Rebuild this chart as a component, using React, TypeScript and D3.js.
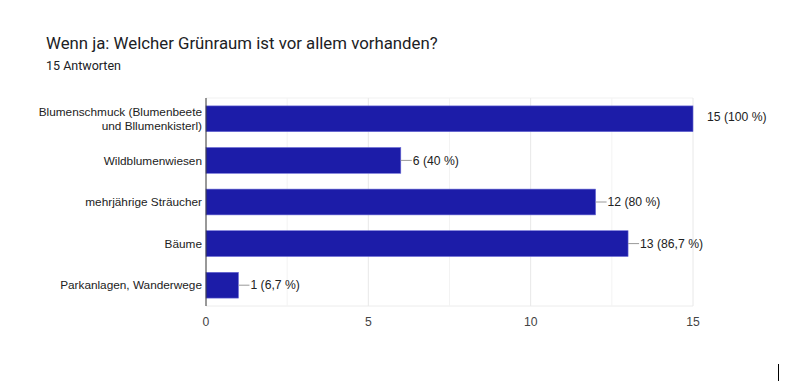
import * as d3 from "d3";

const categories = [
  ["Blumenschmuck (Blumenbeete", "und Bllumenkisterl)"],
  ["Wildblumenwiesen"],
  ["mehrjährige Sträucher"],
  ["Bäume"],
  ["Parkanlagen, Wanderwege"],
];
const counts = [15, 6, 12, 13, 1];
const valueLabels = ["15 (100 %)", "6 (40 %)", "12 (80 %)", "13 (86,7 %)", "1 (6,7 %)"];
const xTicks = [0, 5, 10, 15];
const gridTicks = [2.5, 5, 7.5, 10, 12.5, 15];

export default function App() {
  const width = 811;
  const height = 385;
  const plot = { left: 206, right: 693, top: 98, bottom: 306 };

  const x = d3.scaleLinear().domain([0, 15]).range([plot.left, plot.right]);
  const y = d3
    .scaleBand<number>()
    .domain(d3.range(categories.length))
    .range([plot.top, plot.bottom])
    .paddingInner(0.38)
    .paddingOuter(0.19);

  const font = "Arial, 'Liberation Sans', sans-serif";

  return (
    <svg
      width={width}
      height={height}
      style={{ position: "absolute", left: 0, top: 0, background: "#fff" }}
    >
      <text x={46} y={49} fontFamily="Roboto, sans-serif" fontSize={16.8} fill="#202124">
        Wenn ja: Welcher Grünraum ist vor allem vorhanden?
      </text>
      <text x={46} y={70} fontFamily="Roboto, sans-serif" fontSize={12.5} fill="#202124">
        15 Antworten
      </text>

      {/* gridlines */}
      <line x1={plot.left} x2={plot.right} y1={plot.top} y2={plot.top} stroke="#f1f1f1" />
      <line x1={plot.left} x2={plot.right} y1={plot.bottom} y2={plot.bottom} stroke="#ececec" />
      {gridTicks.map((t) => (
        <line
          key={t}
          x1={x(t)}
          x2={x(t)}
          y1={plot.top}
          y2={plot.bottom}
          stroke={t % 5 === 0 ? "#e8e8e8" : "#f3f3f3"}
        />
      ))}

      {counts.map((v, i) => {
        const y0 = y(i)!;
        const bw = y.bandwidth();
        const xe = x(v);
        const cy = y0 + bw / 2;
        const outside = v === 15;
        return (
          <g key={i}>
            <rect x={x(0)} y={y0} width={xe - x(0)} height={bw} fill="#1c1ca8" stroke="#6b6bd6" strokeWidth={0.6} />
            {!outside && (
              <line x1={xe} x2={xe + 11} y1={cy} y2={cy} stroke="#999" strokeWidth={1} />
            )}
            <text
              x={outside ? xe + 14 : xe + 12}
              y={outside ? cy - 2 : cy}
              dy="0.35em"
              fontFamily={font}
              fontSize={12.2}
              fill="#222"
            >
              {valueLabels[i]}
            </text>
            <text textAnchor="end" fontFamily={font} fontSize={11.8} fill="#222">
              {categories[i].map((line, j) => (
                <tspan
                  key={j}
                  x={plot.left - 4}
                  y={cy + (j - (categories[i].length - 1) / 2) * 14.5}
                  dy="0.35em"
                >
                  {line}
                </tspan>
              ))}
            </text>
          </g>
        );
      })}

      <line x1={plot.left} x2={plot.left} y1={plot.top} y2={plot.bottom} stroke="#333" strokeWidth={1} />

      {xTicks.map((t) => (
        <text
          key={t}
          x={x(t)}
          y={326}
          textAnchor="middle"
          fontFamily={font}
          fontSize={12.2}
          fill="#444"
        >
          {t}
        </text>
      ))}

      {/* text cursor artefact */}
      <line x1={778.5} x2={778.5} y1={364} y2={381} stroke="#000" strokeWidth={1} />
    </svg>
  );
}
